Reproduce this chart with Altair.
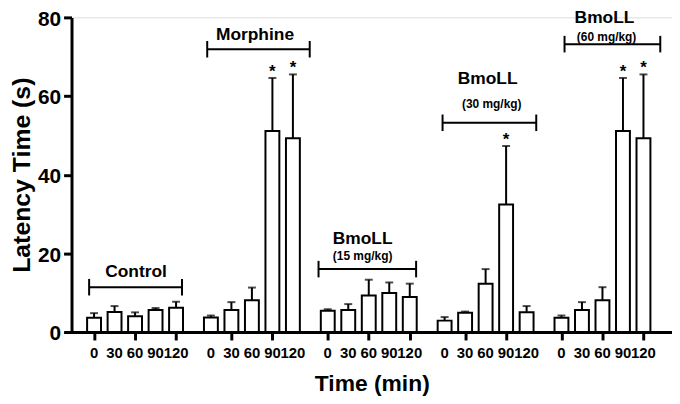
import altair as alt
import pandas as pd

# ---------------- data ----------------
groups = ["Control", "Morphine", "BmoLL 15", "BmoLL 30", "BmoLL 60"]
times = [0, 30, 60, 90, 120]
means = [
    [3.6, 5.1, 4.0, 5.6, 6.2],
    [3.7, 5.6, 8.1, 51.1, 49.3],
    [5.4, 5.6, 9.3, 9.9, 8.9],
    [2.9, 4.9, 12.3, 32.4, 5.0],
    [3.6, 5.6, 8.1, 51.1, 49.3],
]
sems = [
    [1.2, 1.5, 1.0, 0.5, 1.5],
    [0.5, 2.0, 3.2, 13.5, 16.2],
    [0.4, 1.5, 4.0, 2.7, 3.4],
    [0.9, 0.3, 3.7, 14.9, 1.6],
    [0.6, 2.0, 3.3, 13.5, 16.2],
]
signif = [
    [0, 0, 0, 0, 0],
    [0, 0, 0, 1, 1],
    [0, 0, 0, 0, 0],
    [0, 0, 0, 1, 0],
    [0, 0, 0, 1, 1],
]

# group brackets (x start/end in slot units, y in seconds)
bracket_x1 = [-0.24, 5.52, 10.95, 17.0, 22.95]
bracket_x2 = [4.29, 10.52, 15.71, 21.57, 27.62]
bracket_y = [11.4, 71.9, 16.0, 53.2, 73.2]

# group titles
title_text = ["Control", "Morphine", "BmoLL", "BmoLL", "BmoLL"]
title_x = [2.05, 7.85, 13.1, 19.2, 24.9]
title_y = [15.3, 75.4, 23.6, 64.3, 79.8]
dose_text = ["(15 mg/kg)", "(30 mg/kg)", "(60 mg/kg)"]
dose_x = [13.1, 19.4, 25.0]
dose_y = [19.3, 58.0, 75.1]

GROUP_STEP = 5.7

rows = []
for g, name in enumerate(groups):
    for i, t in enumerate(times):
        pos = round(g * GROUP_STEP + i, 3)
        rows.append({
            "group": name, "time": str(t), "pos": pos,
            "mean": means[g][i], "top": means[g][i] + sems[g][i],
            "star": "*" if signif[g][i] else "",
        })
df = pd.DataFrame(rows)
positions = list(df["pos"])

br = pd.DataFrame({"x1": bracket_x1, "x2": bracket_x2, "y": bracket_y})
br["ylo"] = br["y"] - 2.1
br["yhi"] = br["y"] + 2.1
br_ends = pd.concat([
    br[["x1", "ylo", "yhi"]].rename(columns={"x1": "x"}),
    br[["x2", "ylo", "yhi"]].rename(columns={"x2": "x"}),
])
titles = pd.DataFrame({"x": title_x, "y": title_y, "t": title_text})
doses = pd.DataFrame({"x": dose_x, "y": dose_y, "t": dose_text})

FONT = "Liberation Sans"
W, H = 605, 317

xscale = alt.Scale(domain=[-0.857, 27.95], nice=False, zero=False)
yscale = alt.Scale(domain=[0, 80], nice=False)

x_axis = alt.Axis(
    values=positions, labels=False, title="Time (min)", grid=False,
    tickSize=8, tickWidth=3, tickColor="black",
    domainColor="black", domainWidth=3,
    titleFont=FONT, titleFontSize=23, titleFontWeight="bold", titleColor="black",
    titleY=59, titleBaseline="alphabetic",
)
y_axis = alt.Axis(
    values=[0, 20, 40, 60, 80], title="Latency Time (s)", grid=False,
    labelFont=FONT, labelFontSize=21, labelFontWeight="bold", labelColor="black",
    labelPadding=3, labelOffset=2, tickSize=8, tickWidth=3, tickColor="black",
    domainColor="black", domainWidth=3, labelFlush=False,
    titleFont=FONT, titleFontSize=25, titleFontWeight="bold", titleColor="black",
    titleX=-50, titleY=H / 2, titleAngle=-90, titleAlign="center", titleBaseline="middle",
)

base = alt.Chart(df)
bars = base.mark_bar(size=14, fill="white", stroke="black", strokeWidth=2).encode(
    x=alt.X("pos:Q", scale=xscale, axis=x_axis),
    y=alt.Y("mean:Q", scale=yscale, axis=y_axis),
)
err = base.mark_rule(color="black", strokeWidth=2).encode(
    x="pos:Q", y="mean:Q", y2="top:Q")
caps = base.mark_tick(orient="horizontal", size=8, thickness=2, color="black").encode(
    x="pos:Q", y="top:Q")
stars = base.mark_text(font=FONT, fontSize=17, fontWeight="bold", baseline="alphabetic",
                       dy=-1, color="black").encode(x="pos:Q", y="top:Q", text="star:N")
tick_labels = base.mark_text(font=FONT, fontSize=15, fontWeight="bold", baseline="alphabetic",
                             color="black").encode(
    x="pos:Q", y=alt.value(H + 26), text="time:N")

brackets = alt.Chart(br).mark_rule(color="black", strokeWidth=2).encode(
    x="x1:Q", x2="x2:Q", y="y:Q")
bracket_ends = alt.Chart(br_ends).mark_rule(color="black", strokeWidth=2).encode(
    x="x:Q", y="ylo:Q", y2="yhi:Q")
title_marks = alt.Chart(titles).mark_text(font=FONT, fontSize=17.5, fontWeight="bold",
                                          baseline="middle", color="black").encode(
    x="x:Q", y="y:Q", text="t:N")
dose_marks = alt.Chart(doses).mark_text(font=FONT, fontSize=12, fontWeight="bold",
                                        baseline="middle", color="black").encode(
    x="x:Q", y="y:Q", text="t:N")

chart = alt.layer(
    bars, err, caps, stars, tick_labels, brackets, bracket_ends, title_marks, dose_marks
).properties(
    width=W, height=H,
    autosize=alt.AutoSizeParams(type="none"),
    padding={"left": 64, "top": 8, "right": 0, "bottom": 64},
).configure_view(stroke=None).configure(background="white")

chart.save("out.html", embed_options={"renderer": "svg", "actions": False})
